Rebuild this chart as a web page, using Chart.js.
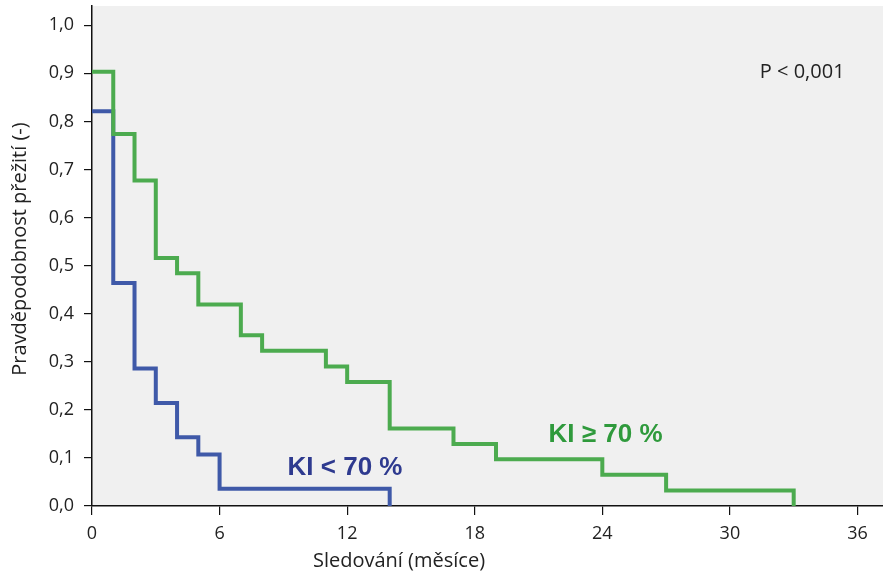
<!DOCTYPE html>
<html>
<head>
<meta charset="utf-8">
<script src="https://cdn.jsdelivr.net/npm/chart.js@4"></script>
<style>
  html, body { margin: 0; padding: 0; background: #fff; }
  #box { width: 883px; height: 579px; }
</style>
</head>
<body>
<div id="box"><canvas id="graf"></canvas></div>
<script>
// Kaplan-Meier: [měsíc, pravděpodobnost]
const mesiceZelena = [0, 1, 2, 3, 4, 5, 7, 8, 11, 12, 14, 17, 19, 24, 27, 33];
const prezitiZelena = [0.903, 0.774, 0.677, 0.516, 0.484, 0.419, 0.355, 0.323, 0.290, 0.258, 0.161, 0.129, 0.097, 0.065, 0.032, 0];
const mesiceModra = [0, 1, 2, 3, 4, 5, 6, 14];
const prezitiModra = [0.821, 0.464, 0.286, 0.214, 0.143, 0.107, 0.036, 0];
const xTicks = [0, 6, 12, 18, 24, 30, 36];
const yTicks = [0, 0.1, 0.2, 0.3, 0.4, 0.5, 0.6, 0.7, 0.8, 0.9, 1.0];

const body = (xs, ys) => xs.map((x, i) => ({ x: x, y: ys[i] }));

const pozadi = {
  id: "pozadi",
  beforeDraw(chart) {
    const a = chart.chartArea, ctx = chart.ctx;
    ctx.save();
    ctx.fillStyle = "#f0f0f0";
    ctx.fillRect(a.left, a.top, a.right - a.left, a.bottom - a.top);
    ctx.restore();
  }
};

const popisky = {
  id: "popisky",
  afterDatasetsDraw(chart) {
    const ctx = chart.ctx, sx = chart.scales.x, sy = chart.scales.y;
    ctx.save();
    ctx.textAlign = "center";
    ctx.textBaseline = "middle";
    ctx.font = "bold 26px 'Liberation Sans', Arial, sans-serif";
    ctx.fillStyle = "#2e3a8f";
    ctx.fillText("KI < 70 %", sx.getPixelForValue(11.9), sy.getPixelForValue(0.079));
    ctx.fillStyle = "#2f9a3c";
    ctx.fillText("KI \u2265 70 %", sx.getPixelForValue(24.15), sy.getPixelForValue(0.148));
    ctx.font = "20px 'Open Sans', sans-serif";
    ctx.fillStyle = "#222";
    ctx.fillText("P < 0,001", sx.getPixelForValue(33.4), sy.getPixelForValue(0.902));
    // nazvy os
    ctx.fillText("Sledování (měsíce)", 399, 561);
    ctx.translate(20, 249);
    ctx.rotate(-Math.PI / 2);
    ctx.fillText("Pravděpodobnost přežití (-)", 0, 0);
    ctx.restore();
  }
};

new Chart(document.querySelector("#graf"), {
  type: "scatter",
  data: {
    datasets: [
      {
        label: "KI ≥ 70 %",
        data: body(mesiceZelena, prezitiZelena),
        showLine: true,
        stepped: true,
        borderColor: "#4cab4f",
        borderWidth: 4,
        pointRadius: 0
      },
      {
        label: "KI < 70 %",
        data: body(mesiceModra, prezitiModra),
        showLine: true,
        stepped: true,
        borderColor: "#3f59a8",
        borderWidth: 4,
        pointRadius: 0
      }
    ]
  },
  options: {
    responsive: true,
    maintainAspectRatio: false,
    animation: false,
    layout: { padding: { top: 6, right: 0, left: 0, bottom: 0 } },
    plugins: {
      legend: { display: false },
      tooltip: { enabled: false }
    },
    scales: {
      x: {
        type: "linear",
        min: 0,
        max: 37.2,
        afterBuildTicks: (s) => { s.ticks = xTicks.map(v => ({ value: v })); },
        afterFit: (s) => { s.height = 73; s.paddingLeft = 0; s.paddingRight = 0; },
        grid: { drawOnChartArea: false, color: "#111", tickLength: 9, lineWidth: 1.2 },
        border: { color: "#111", width: 1.5 },
        ticks: {
          color: "#222",
          padding: 8,
          font: { family: "'Open Sans', sans-serif", size: 18 }
        }
      },
      y: {
        min: 0,
        max: 1.04,
        afterBuildTicks: (s) => { s.ticks = yTicks.map(v => ({ value: v })); },
        afterFit: (s) => { s.width = 92; s.paddingTop = 0; s.paddingBottom = 0; },
        grid: { drawOnChartArea: false, color: "#111", tickLength: 8, lineWidth: 1.2 },
        border: { color: "#111", width: 1.5 },
        ticks: {
          color: "#222",
          padding: 10,
          callback: (v) => v.toFixed(1).replace(".", ","),
          font: { family: "'Open Sans', sans-serif", size: 18 }
        }
      }
    }
  },
  plugins: [pozadi, popisky]
});
</script>
</body>
</html>
